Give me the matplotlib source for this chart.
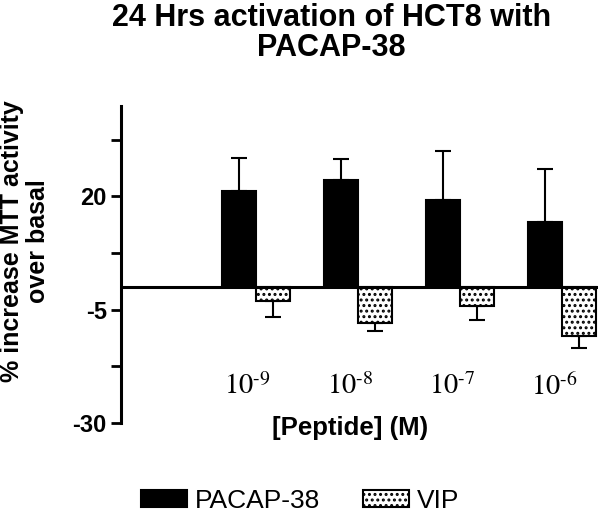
import numpy as np
import matplotlib
matplotlib.use("Agg")
import matplotlib.pyplot as plt

# data
concentrations = ["$10^{\\text{-}9}$", "$10^{\\text{-}8}$", "$10^{\\text{-}7}$", "$10^{\\text{-}6}$"]
pacap_mean = [21.3, 23.7, 19.3, 14.3]
pacap_sem = [7.3, 4.6, 10.7, 11.8]
vip_mean = [-3.0, -7.9, -4.1, -10.8]
vip_sem = [3.6, 1.8, 3.1, 2.7]
yticks_major = [-30, -5, 20]
yticks_minor = [-17.5, 7.5, 32.5]

plt.rcParams["font.family"] = ["Liberation Sans", "DejaVu Sans"]
plt.rcParams["mathtext.fontset"] = "stix"
plt.rcParams["hatch.linewidth"] = 1.4

fig = plt.figure(figsize=(6.0, 5.14), dpi=100)
ax = fig.add_axes([0.201, 0.177, 0.796, 0.617])

x = np.arange(1, len(concentrations) + 1)
w = 1 / 3

ax.bar(x - w / 2, pacap_mean, w, color="black", edgecolor="black", linewidth=1.5,
       yerr=[np.zeros(len(pacap_sem)), pacap_sem], capsize=5.5,
       error_kw=dict(elinewidth=1.5, capthick=1.5, ecolor="black"), label="PACAP-38")
ax.bar(x + w / 2, vip_mean, w, color="white", edgecolor="black", linewidth=1.5, hatch="...",
       yerr=[vip_sem, np.zeros(len(vip_sem))], capsize=5.5,
       error_kw=dict(elinewidth=1.5, capthick=1.5, ecolor="black"), label="VIP")

ax.axhline(0, color="black", lw=2.2, zorder=5)

ax.set_xlim(-0.324, 4.353)
ax.set_ylim(-30, 40)
ax.set_xticks([])
ax.set_yticks(yticks_major)
ax.set_yticks(yticks_minor, minor=True)
ax.set_yticklabels([str(v) for v in yticks_major], fontsize=17, fontweight="bold")
ax.tick_params(axis="y", which="both", length=7, width=2, pad=3)
for s in ["top", "right", "bottom"]:
    ax.spines[s].set_visible(False)
ax.spines["left"].set_linewidth(2.2)

# concentration labels inside the plot area
for xi, lab in zip(x, concentrations):
    ax.text(xi - 0.08, -22, lab, ha="center", va="center", fontsize=20.5)

ax.text(0.48, -0.015, "[Peptide] (M)", transform=ax.transAxes, ha="center", va="center",
        fontsize=18.5, fontweight="bold")

ax.set_ylabel("% increase MTT activity\nover basal", fontsize=18, fontweight="bold",
              linespacing=1.1)
ax.yaxis.set_label_coords(-0.148, 0.575)

fig.text(0.552, 0.995, "24 Hrs activation of HCT8 with\nPACAP-38", ha="center", va="top",
         fontsize=22, fontweight="bold", linespacing=1.0)

fig.legend(loc="center", bbox_to_anchor=(0.5, 0.025), ncol=2, frameon=False, fontsize=19,
           handlelength=1.75, handleheight=0.6, handletextpad=0.3, columnspacing=1.6)

fig.savefig("out.png", dpi=100)
